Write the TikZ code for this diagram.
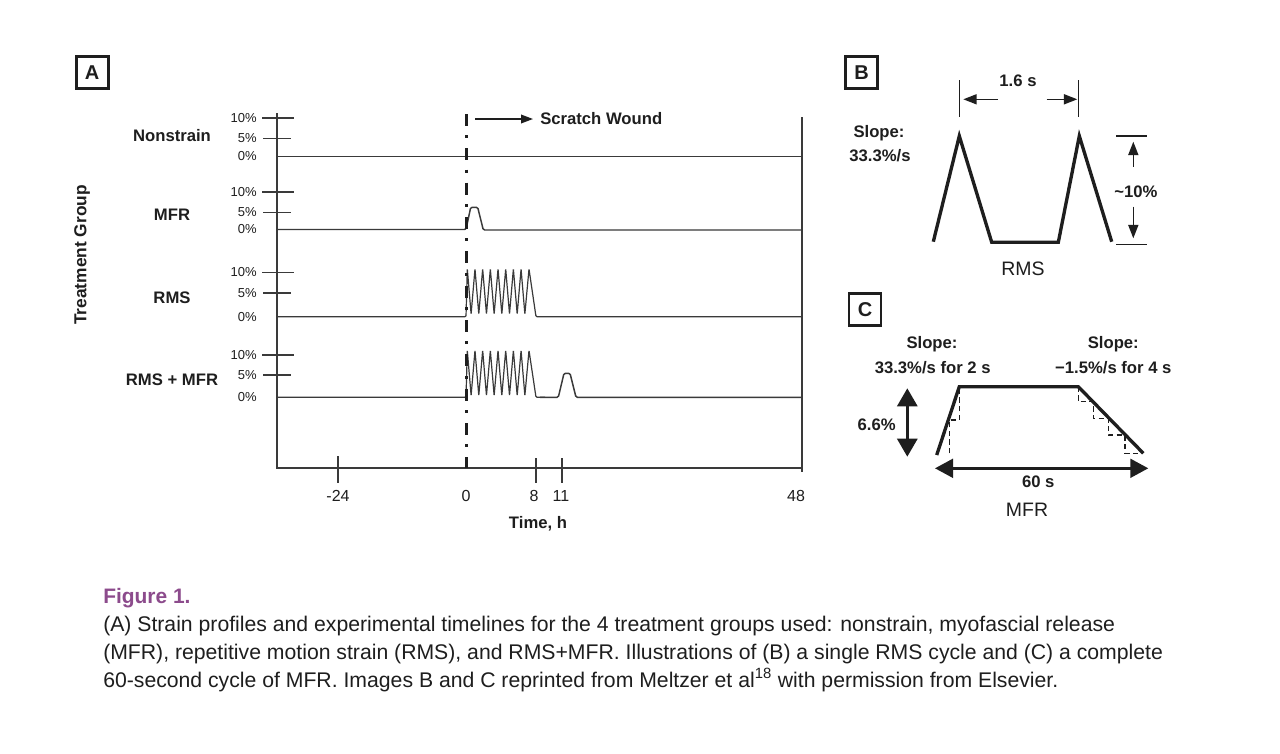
\documentclass[tikz,border=0pt]{standalone}
\usepackage{fontspec}
\setmainfont{Liberation Sans}
\usetikzlibrary{arrows.meta}
\definecolor{ink}{HTML}{1E1E1E}
\definecolor{sigline}{HTML}{3A3A3A}
\definecolor{figpurple}{HTML}{8C4B8C}
\begin{document}
\begin{tikzpicture}[x=0.75pt,y=-0.75pt,
  lab/.style={font=\fontsize{12.5}{14}\selectfont\bfseries, text=ink, inner sep=0pt},
  pct/.style={font=\fontsize{9.75}{11}\selectfont, text=ink, inner sep=0pt, anchor=east},
  num/.style={font=\fontsize{12}{14}\selectfont, text=ink, inner sep=0pt},
  big/.style={font=\fontsize{14.6}{17}\selectfont, text=ink, inner sep=0pt},
  panel/.style={draw=ink, line width=2pt, minimum size=24pt, inner sep=0pt,
                font=\fontsize{15}{17}\selectfont\bfseries, text=ink},
  sig/.style={draw=sigline, line width=1.1pt},
  tickln/.style={draw=sigline, line width=1.2pt},
  axis/.style={draw=sigline, line width=1.2pt},
  wave/.style={draw=ink, line width=2.5pt, line join=miter},
  guide/.style={draw=ink, line width=0.8pt},
  stair/.style={draw=ink, line width=1pt, dash pattern=on 4pt off 2.5pt},
  captxt/.style={font=\fontsize{15.9}{18}\selectfont, text=ink, inner sep=0pt, anchor=base west},
]
\useasboundingbox[fill=white] (0,0) rectangle (1280,753);

% ---------------- Panel A ----------------
\node[panel] (boxA) at (92.2,72.8) {A};

% axes
\draw[axis] (277,113) -- (277,468) -- (801.7,468);
\draw[axis] (801.7,117) -- (801.7,472);

% y ticks and labels
\foreach \yt/\yf/\yz/\nm in {117.7/138.3/156.5/n, 191.7/212.3/229.5/m, 272.3/292.7/316.7/r, 354.7/375/397.3/rm}{
  \draw[tickln] (262,\yt) -- (294,\yt);
  \draw[tickln] (263,\yf) -- (291,\yf);
  \node[pct] (ten\nm) at (257,\yt) {10\%};
  \node[pct] (five\nm) at (257,\yf) {5\%};
  \node[pct] (zero\nm) at (257,\yz) {0\%};
}

% group labels
\node[lab] (gNon) at (172,136) {Nonstrain};
\node[lab] (gMFR) at (172,215) {MFR};
\node[lab] (gRMS) at (172,298) {RMS};
\node[lab] (gRM) at (172,380) {RMS + MFR};
\node[lab, rotate=90, font=\fontsize{13}{15}\selectfont\bfseries] (tg) at (82,255) {Treatment Group};

% signals
\draw[sig] (277,156.5) -- (801.7,156.5);
\draw[sig, rounded corners=1pt] (277,229.5) -- (466,229.5) -- (470.7,207.3) -- (477.7,207.3) -- (483.3,230) -- (801.7,230);
\draw[sig, line width=0.9pt, rounded corners=0.8pt] (277,316.7) -- (466,316.7)
  \foreach \k in {0,...,7}{ -- ({467.3+7.68*\k},269) -- ({471.1+7.68*\k},314) }
  -- (529,269) -- (536,316.7) -- (801.7,316.7);
\draw[sig, line width=0.9pt, rounded corners=0.8pt] (277,397.3) -- (466,397.3)
  \foreach \k in {0,...,7}{ -- ({467.3+7.68*\k},350.5) -- ({471.1+7.68*\k},395.5) }
  -- (529,350.5) -- (536,397.3) -- (545,397.3);
\draw[sig, rounded corners=1pt] (540,397.3) -- (558.3,397.3) -- (564,373.3) -- (570,373.3) -- (576,397.3) -- (801.7,397.3);

% scratch wound line
\coordinate (swTop) at (466,114);
\coordinate (swBot) at (466,468);
\draw[draw=ink, line width=2.25pt, dash pattern=on 9pt off 7pt on 2.25pt off 7.5pt] (swTop) -- (swBot);
\coordinate (arS) at (475,119);
\coordinate (arE) at (533,119);
\draw[draw=ink, line width=1.1pt, -{Triangle[length=9pt,width=6.5pt]}] (arS) -- (arE);
\node[lab, anchor=west] (sw) at (540,119) {Scratch Wound};

% x ticks and labels
\draw[tickln] (338,456) -- (338,483);
\draw[tickln] (536,458) -- (536,483);
\draw[tickln] (562,458) -- (562,483);
\node[num] (tm24) at (338,495.7) {-24};
\node[num] (t0) at (466,495.7) {0};
\node[num] (t8) at (534,495.7) {8};
\node[num] (t11) at (561,495.7) {11};
\node[num] (t48) at (796,495.7) {48};
\node[lab] (xl) at (538,524) {Time, h};

% ---------------- Panel B ----------------
\node[panel] (boxB) at (861.7,72.8) {B};
\node[lab] (b16) at (1018,81) {1.6 s};
\draw[guide] (959.3,80) -- (959.3,116.7);
\draw[guide] (1078.3,80) -- (1078.3,116.7);
\coordinate (bl1) at (998,99.3);
\coordinate (bl2) at (963.3,99.3);
\coordinate (br1) at (1046.7,99.3);
\coordinate (br2) at (1077.3,99.3);
\draw[guide, line width=1.1pt, -{Triangle[length=10pt,width=7.5pt]}] (bl1) -- (bl2);
\draw[guide, line width=1.1pt, -{Triangle[length=10pt,width=7.5pt]}] (br1) -- (br2);
\draw[wave] (933.3,241.7) -- (959.3,136) -- (991.7,242.3) -- (1058.3,242.3) -- (1079.3,136) -- (1111.7,241.7);
\draw[guide] (1116,136) -- (1147.3,136);
\draw[guide] (1116,244.3) -- (1147.3,244.3);
\coordinate (bu1) at (1133.3,166.7);
\coordinate (bu2) at (1133.3,141.7);
\coordinate (bd1) at (1133.3,206.7);
\coordinate (bd2) at (1133.3,238.3);
\draw[guide, line width=1.1pt, -{Triangle[length=10pt,width=7.5pt]}] (bu1) -- (bu2);
\draw[guide, line width=1.1pt, -{Triangle[length=10pt,width=7.5pt]}] (bd1) -- (bd2);
\node[lab] (b10) at (1136,191.7) {\textasciitilde10\%};
\node[lab] (bs1) at (879,133.5) {Slope:};
\node[lab] (bs2) at (880,155.5) {33.3\%/s};
\node[big] (brms) at (1023,268.3) {RMS};

% ---------------- Panel C ----------------
\node[panel] (boxC) at (865,309.8) {C};
\node[lab] (cs1) at (932,343.8) {Slope:};
\node[lab] (cs2) at (932.7,367.8) {33.3\%/s for 2 s};
\node[lab] (cs3) at (1113.3,343.8) {Slope:};
\node[lab] (cs4) at (1113.3,367.8) {−1.5\%/s for 4 s};
\draw[stair] (949.3,453.3) -- (949.3,420) -- (959.3,420) -- (959.3,386.7);
\draw[stair] (1078.3,386.7) -- (1078.3,401.7) -- (1093.3,401.7) -- (1093.3,418.3) -- (1108.3,418.3) -- (1108.3,435) -- (1125,435) -- (1125,453.3) -- (1143.3,453.3);
\draw[wave] (936.7,455) -- (959.3,386.7) -- (1078.3,386.7) -- (1143.3,453.3);
\coordinate (cv1) at (907.3,388.3);
\coordinate (cv2) at (907.3,456.7);
\coordinate (ch1) at (935,468.3);
\coordinate (ch2) at (1148.3,468.3);
\draw[draw=ink, line width=2.2pt, {Triangle[length=13.5pt,width=15pt]}-{Triangle[length=13.5pt,width=15pt]}] (cv1) -- (cv2);
\draw[draw=ink, line width=2.2pt, {Triangle[length=13.5pt,width=14pt]}-{Triangle[length=13.5pt,width=14pt]}] (ch1) -- (ch2);
\node[lab] (c66) at (876.7,425) {6.6\%};
\node[lab] (c60) at (1038.3,481.7) {60 s};
\node[big] (cmfr) at (1027,510) {MFR};

% ---------------- Caption ----------------
\node[captxt, font=\fontsize{15.7}{18}\selectfont\bfseries, text=figpurple] (fig) at (103,603) {Figure 1.};
\node[captxt] (c1) at (103,631) {(A) Strain profiles and experimental timelines for the 4 treatment groups used: nonstrain, myofascial release};
\node[captxt] (c2) at (103,659) {(MFR), repetitive motion strain (RMS), and RMS+MFR. Illustrations of (B) a single RMS cycle and (C) a complete};
\node[captxt] (c3) at (103,687) {60-second cycle of MFR. Images B and C reprinted from Meltzer et al\textsuperscript{18} with permission from Elsevier.};
\end{tikzpicture}
\end{document}
